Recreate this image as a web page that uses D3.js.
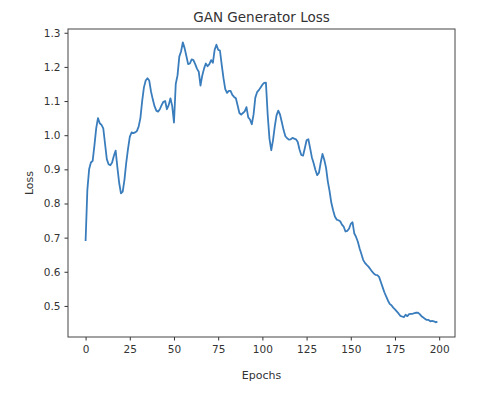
<!DOCTYPE html>
<html>
<head>
<meta charset="utf-8">
<script src="https://cdn.jsdelivr.net/npm/d3@7"></script>
<style>
  body { margin: 0; background: #fff; }
  text { font-family: "DejaVu Sans", sans-serif; fill: #333; }
</style>
</head>
<body>
<div id="chart"></div>
<script>
// generator loss per epoch
const lossValues = [
  0.69, 0.84, 0.90, 0.92, 0.925, 0.97, 1.02, 1.05, 1.035, 1.03,
  1.02, 0.975, 0.93, 0.915, 0.912, 0.92, 0.94, 0.955, 0.905, 0.86,
  0.83, 0.835, 0.87, 0.92, 0.96, 0.995, 1.008, 1.006, 1.008, 1.012,
  1.025, 1.05, 1.10, 1.14, 1.16, 1.167, 1.16, 1.128, 1.105, 1.085,
  1.072, 1.069, 1.076, 1.088, 1.098, 1.10, 1.076, 1.088, 1.108, 1.085,
  1.037, 1.15, 1.175, 1.23, 1.245, 1.272, 1.255, 1.232, 1.208, 1.21,
  1.222, 1.22, 1.208, 1.195, 1.186, 1.145, 1.175, 1.195, 1.21, 1.202,
  1.208, 1.22, 1.212, 1.25, 1.265, 1.25, 1.248, 1.206, 1.167, 1.135,
  1.124, 1.13, 1.13, 1.118, 1.112, 1.108, 1.087, 1.065, 1.06, 1.065,
  1.07, 1.082, 1.052, 1.046, 1.032, 1.06, 1.11, 1.126, 1.132, 1.14,
  1.148, 1.153, 1.154, 1.06, 0.99, 0.956, 0.985, 1.025, 1.058, 1.072,
  1.06, 1.038, 1.015, 0.997, 0.991, 0.987, 0.988, 0.992, 0.99, 0.988,
  0.98, 0.958, 0.942, 0.94, 0.962, 0.985, 0.988, 0.962, 0.935, 0.918,
  0.898, 0.883, 0.89, 0.92, 0.945, 0.928, 0.905, 0.865, 0.836, 0.802,
  0.78, 0.762, 0.753, 0.751, 0.748, 0.738, 0.732, 0.718, 0.72, 0.726,
  0.74, 0.745, 0.712, 0.702, 0.688, 0.668, 0.652, 0.635, 0.626, 0.62,
  0.615, 0.608, 0.601, 0.595, 0.591, 0.59, 0.585, 0.57, 0.555, 0.54,
  0.528, 0.516, 0.506, 0.502, 0.495, 0.49, 0.484, 0.478, 0.471, 0.469,
  0.467, 0.474, 0.47, 0.476, 0.477, 0.477, 0.479, 0.48, 0.48, 0.476,
  0.47, 0.466, 0.462, 0.459, 0.459, 0.455, 0.456, 0.455, 0.452, 0.454
];
const epochs = lossValues.map((d, i) => i);
const xTicks = [0, 25, 50, 75, 100, 125, 150, 175, 200];
const yTicks = [0.5, 0.6, 0.7, 0.8, 0.9, 1.0, 1.1, 1.2, 1.3];

const width = 479, height = 393;
const box = { left: 68, right: 455, top: 29, bottom: 337 };

const svg = d3.select("#chart").append("svg")
  .attr("width", width)
  .attr("height", height);

// matplotlib-ish 5% margins
const x = d3.scaleLinear().domain([-9.95, 208.95]).range([box.left, box.right]);
const y = d3.scaleLinear().domain([0.409, 1.311]).range([box.bottom, box.top]);

// x axis
const gx = svg.append("g")
  .attr("transform", `translate(0,${box.bottom})`)
  .call(d3.axisBottom(x).tickValues(xTicks).tickSize(3.5).tickPadding(5).tickFormat(d3.format("d")));
gx.select(".domain").remove();
gx.selectAll("line").attr("stroke", "#333");
gx.selectAll("text").attr("font-size", 10.5).attr("fill", "#333")
  .style("font-family", "DejaVu Sans, sans-serif");

// y axis
const gy = svg.append("g")
  .attr("transform", `translate(${box.left},0)`)
  .call(d3.axisLeft(y).tickValues(yTicks).tickSize(3.5).tickPadding(4).tickFormat(d3.format(".1f")));
gy.select(".domain").remove();
gy.selectAll("line").attr("stroke", "#333");
gy.selectAll("text").attr("font-size", 10.5).attr("fill", "#333")
  .style("font-family", "DejaVu Sans, sans-serif");

// frame
svg.append("rect")
  .attr("x", box.left).attr("y", box.top)
  .attr("width", box.right - box.left)
  .attr("height", box.bottom - box.top)
  .attr("fill", "none")
  .attr("stroke", "#444")
  .attr("stroke-width", 1);

// the loss line
const line = d3.line()
  .x((d, i) => x(epochs[i]))
  .y(d => y(d));

svg.append("path")
  .datum(lossValues)
  .attr("d", line)
  .attr("fill", "none")
  .attr("stroke", "#3a7dbd")
  .attr("stroke-width", 1.8)
  .attr("stroke-linejoin", "round");

// labels
svg.append("text")
  .attr("x", (box.left + box.right) / 2)
  .attr("y", 22)
  .attr("text-anchor", "middle")
  .attr("font-size", 13.5)
  .text("GAN Generator Loss");

svg.append("text")
  .attr("x", (box.left + box.right) / 2)
  .attr("y", 379)
  .attr("text-anchor", "middle")
  .attr("font-size", 11)
  .text("Epochs");

svg.append("text")
  .attr("transform", `translate(33,${(box.top + box.bottom) / 2}) rotate(-90)`)
  .attr("text-anchor", "middle")
  .attr("font-size", 11)
  .text("Loss");
</script>
</body>
</html>
